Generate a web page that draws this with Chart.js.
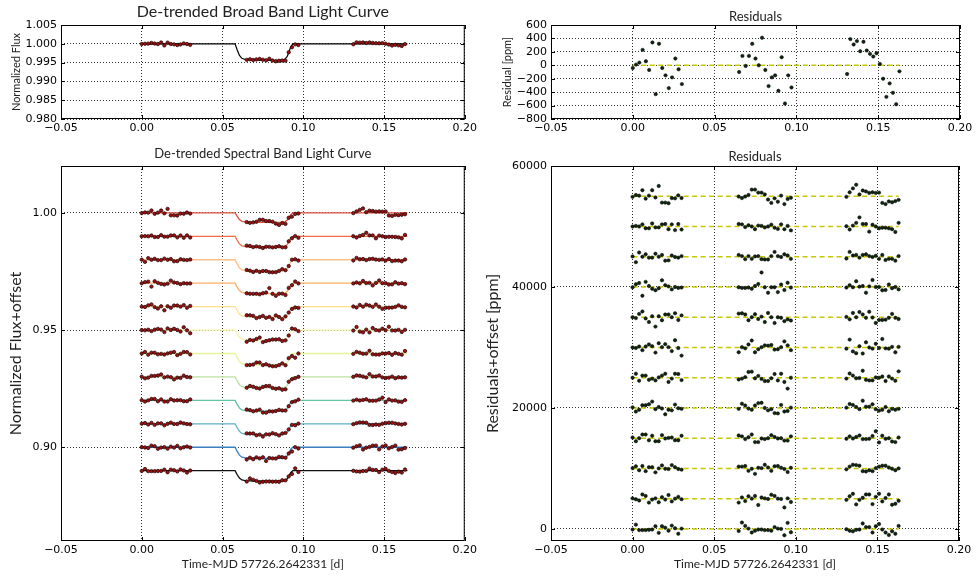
<!DOCTYPE html>
<html lang="en">
<head>
  <meta charset="UTF-8" />
  <title>De-trended Light Curves</title>
  <script src="https://cdn.jsdelivr.net/npm/chart.js"></script>
  <style>
    body {
      margin: 0;
      background: #fff;
      width: 977px;
      height: 577px;
      position: relative;
      overflow: hidden;
    }
    canvas { position: absolute; }
    #broad { left: 0; top: 0; }
    #broadRes { left: 480px; top: 0; }
    #spec { left: 0; top: 140px; }
    #specRes { left: 480px; top: 140px; }
  </style>
</head>
<body>
  <canvas id="broad" width="480" height="140"></canvas>
  <canvas id="broadRes" width="497" height="140"></canvas>
  <canvas id="spec" width="480" height="437"></canvas>
  <canvas id="specRes" width="497" height="437"></canvas>

  <script>
    // sample times [d], three HST-like orbits
    const times = [
      0.000, 0.002, 0.004, 0.006, 0.008, 0.010, 0.012, 0.014, 0.016, 0.018, 0.020, 0.022, 0.024, 0.026, 0.028, 0.030,
      0.065, 0.067, 0.069, 0.071, 0.073, 0.075, 0.077, 0.079, 0.081, 0.083, 0.085, 0.087, 0.089, 0.091, 0.093, 0.095, 0.097,
      0.131, 0.133, 0.135, 0.137, 0.139, 0.141, 0.143, 0.145, 0.147, 0.149, 0.151, 0.153, 0.155, 0.157, 0.159, 0.161, 0.163
    ];
    // fraction of transit depth at each sample time
    const transitShape = [
      0, 0, 0, 0, 0, 0, 0, 0, 0, 0, 0, 0, 0, 0, 0, 0,
      0.97, 0.99, 1.0, 1.0, 1.01, 1.01, 1.02, 1.02, 1.02, 1.01, 1.01, 1.0, 0.95, 0.55, 0.08, 0, 0,
      0, 0, 0, 0, 0, 0, 0, 0, 0, 0, 0, 0, 0, 0, 0, 0, 0
    ];
    // model curve knots
    const modelTimes = [0, 0.0578, 0.0590, 0.0605, 0.0620, 0.0640, 0.0700, 0.0780, 0.0860, 0.0885, 0.0900, 0.0910, 0.0922, 0.0935, 0.1645];
    const modelShape = [0, 0, 0.35, 0.72, 0.90, 0.97, 1.0, 1.02, 1.01, 0.96, 0.80, 0.55, 0.20, 0, 0];

    const broadDepth = 0.0043;
    const broadResiduals = [
      -40, 10, 40, 230, 60, -70, 340, -430, 320, -40, -150, -340, -180, 100, -60, -280,
      -100, 140, -10, 140, 320, 100, 0, 410, -70, -310, -180, -150, -380, 120, -570, -150, -330,
      -130, 390, 310, 360, 210, 350, 220, 170, 130, 180, 20, -200, -470, -270, -410, -580, -90
    ];

    const bandOffsets = [0, 0.01, 0.02, 0.03, 0.04, 0.05, 0.06, 0.07, 0.08, 0.09, 0.10, 0.11];
    const bandDepths = [0.0040, 0.0045, 0.0048, 0.0044, 0.0044, 0.0043, 0.0048, 0.0046, 0.0045, 0.0045, 0.0047, 0.0044];
    const residualOffsets = [55000, 50000, 45000, 40000, 35000, 30000, 25000, 20000, 15000, 10000, 5000, 0];
    const bandColors = ['#e0503c', '#f26b43', '#fdbe85', '#fdae61', '#fee08b', '#f7f4a6',
                        '#e6f598', '#b9e2a0', '#66c2a5', '#5aaec8', '#3a7fc0', '#111111'];

    // residuals in ppm, one list per spectral band (top to bottom)
    const resBand1 = [-100, 200, 100, 1000, -400, 100, 1000, -200, 1700, -1050, -1050, -1150, -300, -350, 150, -300,
      -50, -300, -50, 200, 1100, 1100, 600, 600, 300, -550, -1100, -350, -900, 100, -1300, -450, -250,
      -100, 650, 1300, 1900, 300, 950, 800, 550, 650, 550, 600, -1100, -1300, -850, -1000, -800, -600];
    const resBand2 = [0, 100, 0, 350, -300, -300, 500, -150, -150, 350, 400, -450, 350, -600, 400, -500,
      400, 350, -100, 200, 0, -450, 150, 100, -150, 0, 300, -200, -400, 350, -450, 100, -650,
      50, -500, 150, 600, 1500, 400, 400, -850, 300, 0, -300, -200, -200, -300, -450, -900, 600];
    const resBand3 = [50, -900, 700, 0, 400, -150, -150, 500, 0, 300, -650, -600, 200, -50, -150, 100,
      300, 100, -400, 100, -350, 50, 100, -400, -450, -450, 100, 800, 100, -50, 400, 200, -350,
      -300, 800, 200, 300, -150, 300, 400, 100, -50, 150, -350, 300, -550, -350, -350, -650, 100];
    const resBand4 = [-50, 450, 650, -1450, 850, 150, -300, -550, -200, 1100, 300, 100, -400, 0, -150, -100,
      -50, -150, -150, -100, -300, 150, 500, 2400, -50, -950, -50, -50, -850, 400, -500, 700, -100,
      -100, 300, -50, 950, 50, 150, -950, 100, 1150, 0, 0, -550, -500, 400, -200, 0, -400];
    const resBand5 = [0, -150, 550, 950, -200, -800, 150, -1550, 150, -500, 450, 450, 0, 650, -450, 300,
      600, 650, 450, -500, 0, 500, -300, 100, -800, 700, 0, -950, 0, -100, -650, -350, -550,
      50, -350, 700, 0, 850, 450, -100, 900, -50, -950, -450, -450, -400, -100, 550, -100, -300];
    const resBand6 = [0, -100, 150, -450, 150, 500, 200, -850, 700, 50, 550, 50, -600, 1200, -100, -1350,
      -800, 50, -150, 500, 1150, -800, -300, 50, 350, 300, 400, -350, -300, 50, 1000, 350, -450,
      -200, 1300, -650, -950, 200, -1000, 850, 0, -200, 600, -100, 1400, -150, -200, 100, -800, 100];
    const resBand7 = [0, 650, -500, 350, 350, -350, -150, -450, 50, 350, 650, -700, -150, 650, 600, -400,
      -300, -150, 100, 950, 1000, -100, 300, -200, -550, -550, -100, 600, -450, 650, -700, -1800, 0,
      -150, 700, 350, -100, -50, 1150, -350, -450, -450, 50, 0, 200, -550, 200, -150, -500, 1050];
    const resBand8 = [100, -600, -300, 450, 450, 600, 1050, -200, 150, -100, -1050, -300, -400, 550, -50, -150,
      -150, 700, 400, -100, -300, 400, 800, 850, 0, -400, -200, -850, -900, 500, -600, -500, 50,
      50, 650, 500, 150, -200, 1200, 200, 200, 600, -200, -450, -300, 150, -550, -150, -300, -150];
    const resBand9 = [100, -500, 0, 600, 600, -350, 400, -500, -500, 500, -50, 50, 100, -350, -350, 400,
      450, 300, -150, 150, 600, -650, -650, -50, -150, 0, 500, 200, -50, 0, -400, -400, 300,
      -100, 300, -50, 200, 450, -150, -150, -100, 350, 1150, -700, 400, -100, 0, -550, -650, 100];
    const resBand10 = [50, 350, -300, 400, -450, 200, 200, -650, 0, 500, -50, -100, 550, 200, -100, -200,
      300, 300, 400, -400, -50, -900, 100, 50, 600, 150, -400, 350, 400, 100, -100, -600, 100,
      -150, 300, 600, 550, 450, -450, -500, -300, -450, 50, 300, 450, 450, 150, -50, -300, 0];
    const resBand11 = [50, -100, -300, 700, 450, -650, -150, 50, -600, 250, -150, 600, -450, 0, 300, -100,
      -650, 200, -400, 400, 0, 450, -1050, 200, 50, -50, 650, 450, 0, -50, -1450, 50, -550,
      -200, 400, 800, -950, -200, 150, 700, 700, -900, 300, 800, -450, 100, 700, -1000, -850, -350];
    const resBand12 = [-100, 700, -200, -200, -200, -150, -100, 450, -650, 450, 200, -300, 550, 100, -800, 50,
      -350, 1050, 500, 50, -600, -300, -100, -100, -200, -200, -300, 300, 50, 0, -1050, 1000, -550,
      -50, -300, -400, -150, -100, 900, 300, 300, -600, 450, 800, -100, -600, -1000, -400, -800, 500];
    const bandResiduals = [resBand1, resBand2, resBand3, resBand4, resBand5, resBand6,
                           resBand7, resBand8, resBand9, resBand10, resBand11, resBand12];

    // tick values
    const xTicks = [-0.05, 0.00, 0.05, 0.10, 0.15, 0.20];
    const broadFluxTicks = [0.980, 0.985, 0.990, 0.995, 1.000, 1.005];
    const broadResTicks = [-800, -600, -400, -200, 0, 200, 400, 600];
    const specFluxTicks = [0.90, 0.95, 1.00];
    const specResTicks = [0, 20000, 40000, 60000];

    Chart.defaults.font.family = "'DejaVu Sans', sans-serif";
    Chart.defaults.font.size = 11;
    Chart.defaults.color = '#000';
    Chart.defaults.animation = false;

    const minus = s => s.replace('-', '\u2212');
    const labelFont = "'Lato', 'DejaVu Sans', sans-serif";

    // matplotlib-like closed frame with inward ticks
    const framePlugin = {
      id: 'frame',
      afterDatasetsDraw(chart) {
        const { ctx, chartArea: a, scales } = chart;
        ctx.save();
        ctx.strokeStyle = '#000';
        ctx.lineWidth = 1;
        ctx.strokeRect(a.left + 0.5, a.top + 0.5, a.right - a.left - 1, a.bottom - a.top - 1);
        ctx.beginPath();
        scales.x.ticks.forEach(t => {
          const px = Math.round(scales.x.getPixelForValue(t.value)) + 0.5;
          ctx.moveTo(px, a.bottom); ctx.lineTo(px, a.bottom - 4);
          ctx.moveTo(px, a.top); ctx.lineTo(px, a.top + 4);
        });
        scales.y.ticks.forEach(t => {
          const py = Math.round(scales.y.getPixelForValue(t.value)) + 0.5;
          ctx.moveTo(a.left, py); ctx.lineTo(a.left + 4, py);
          ctx.moveTo(a.right, py); ctx.lineTo(a.right - 4, py);
        });
        ctx.stroke();
        ctx.restore();
      }
    };

    function makeOptions(cfg) {
      return {
        responsive: false,
        devicePixelRatio: 1,
        layout: { padding: { left: 0, right: cfg.padRight, top: 0, bottom: 0 } },
        plugins: {
          legend: { display: false },
          tooltip: { enabled: false },
          title: {
            display: true,
            text: cfg.title,
            fullSize: false,
            color: '#222',
            font: { family: labelFont, size: cfg.titleSize, weight: 'normal', lineHeight: 1.2 },
            padding: cfg.titlePad
          }
        },
        scales: {
          x: {
            type: 'linear',
            min: -0.05,
            max: 0.20,
            afterBuildTicks: s => { s.ticks = xTicks.map(v => ({ value: v })); },
            afterFit: s => { s.height = cfg.xHeight; },
            ticks: { padding: 3, autoSkip: false, maxRotation: 0, callback: v => minus(v.toFixed(2)) },
            grid: { color: '#000', lineWidth: 0.8, drawTicks: false },
            border: { display: false, dash: [1, 2] },
            title: {
              display: !!cfg.xTitle,
              text: cfg.xTitle,
              color: '#222',
              font: { family: labelFont, size: 12 },
              padding: { top: 0, bottom: 6 }
            }
          },
          y: {
            type: 'linear',
            min: cfg.yMin,
            max: cfg.yMax,
            afterBuildTicks: s => { s.ticks = cfg.yTicks.map(v => ({ value: v })); },
            ticks: { padding: 4, autoSkip: false, callback: cfg.yFmt },
            afterFit: s => { s.width = cfg.yWidth; },
            grid: { color: '#000', lineWidth: 0.8, drawTicks: false },
            border: { display: false, dash: [1, 2] },
            title: {
              display: true,
              text: cfg.yTitle,
              color: '#222',
              font: { family: labelFont, size: cfg.yTitleSize },
              padding: { top: cfg.yTitlePad, bottom: 0 }
            }
          }
        }
      };
    }

    const fluxPoint = {
      type: 'scatter',
      pointRadius: 1.7,
      pointBackgroundColor: '#a01212',
      pointBorderColor: '#1a0000',
      pointBorderWidth: 0.7,
      showLine: false
    };
    const resPoint = {
      type: 'scatter',
      pointRadius: 1.7,
      pointBackgroundColor: '#0e260e',
      pointBorderColor: '#000',
      pointBorderWidth: 0.5,
      showLine: false
    };
    const lastTime = times[times.length - 1];

    // broad band light curve
    new Chart(document.getElementById('broad'), {
      type: 'scatter',
      data: {
        datasets: [
          Object.assign({}, fluxPoint, {
            data: times.map((t, i) => ({ x: t, y: 1 - broadDepth * transitShape[i] + broadResiduals[i] * 1e-6 }))
          }),
          {
            type: 'line',
            data: modelTimes.map((t, i) => ({ x: t, y: 1 - broadDepth * modelShape[i] })),
            borderColor: '#000',
            borderWidth: 1.2,
            pointRadius: 0
          }
        ]
      },
      options: makeOptions({
        title: 'De-trended Broad Band Light Curve', titleSize: 16, titlePad: { top: 2, bottom: 3.8 },
        yTitle: 'Normalized Flux', yTitleSize: 11, yTitlePad: 10,
        yMin: 0.98, yMax: 1.005, yTicks: broadFluxTicks, yFmt: v => v.toFixed(3),
        yWidth: 61, xHeight: 21, padRight: 10
      }),
      plugins: [framePlugin]
    });

    // broad band residuals
    new Chart(document.getElementById('broadRes'), {
      type: 'scatter',
      data: {
        datasets: [
          Object.assign({}, resPoint, { data: times.map((t, i) => ({ x: t, y: broadResiduals[i] })) }),
          {
            type: 'line',
            data: [{ x: times[0], y: 0 }, { x: lastTime, y: 0 }],
            borderColor: '#c8c800',
            borderWidth: 1.5,
            borderDash: [5, 3.5],
            pointRadius: 0
          }
        ]
      },
      options: makeOptions({
        title: 'Residuals', titleSize: 13, titlePad: { top: 9.2, bottom: 0.2 },
        yTitle: 'Residual [ppm]', yTitleSize: 11, yTitlePad: 21,
        yMin: -800, yMax: 600, yTicks: broadResTicks, yFmt: v => minus(String(v)),
        yWidth: 71, xHeight: 21, padRight: 17
      }),
      plugins: [framePlugin]
    });

    // spectral band light curves
    const specSets = [];
    bandResiduals.forEach((res, b) => {
      specSets.push(Object.assign({}, fluxPoint, {
        data: times.map((t, i) => ({ x: t, y: 1 - bandOffsets[b] - bandDepths[b] * transitShape[i] + res[i] * 1e-6 }))
      }));
    });
    bandResiduals.forEach((res, b) => {
      specSets.push({
        type: 'line',
        data: modelTimes.map((t, i) => ({ x: t, y: 1 - bandOffsets[b] - bandDepths[b] * modelShape[i] })),
        borderColor: bandColors[b],
        borderWidth: 1.3,
        pointRadius: 0
      });
    });
    new Chart(document.getElementById('spec'), {
      type: 'scatter',
      data: { datasets: specSets },
      options: makeOptions({
        title: 'De-trended Spectral Band Light Curve', titleSize: 13, titlePad: { top: 6.2, bottom: 4.2 },
        xTitle: 'Time-MJD 57726.2642331 [d]',
        yTitle: 'Normalized Flux+offset', yTitleSize: 16, yTitlePad: 6.4,
        yMin: 0.86, yMax: 1.02, yTicks: specFluxTicks, yFmt: v => v.toFixed(2),
        yWidth: 61, xHeight: 36, padRight: 11
      }),
      plugins: [framePlugin]
    });

    // spectral band residuals
    const specResSets = [];
    bandResiduals.forEach((res, b) => {
      specResSets.push(Object.assign({}, resPoint, {
        data: times.map((t, i) => ({ x: t, y: residualOffsets[b] + res[i] }))
      }));
    });
    bandResiduals.forEach((res, b) => {
      specResSets.push({
        type: 'line',
        data: [{ x: times[0], y: residualOffsets[b] }, { x: lastTime, y: residualOffsets[b] }],
        borderColor: '#c8c800',
        borderWidth: 1.5,
        borderDash: [5, 3.5],
        pointRadius: 0
      });
    });
    new Chart(document.getElementById('specRes'), {
      type: 'scatter',
      data: { datasets: specResSets },
      options: makeOptions({
        title: 'Residuals', titleSize: 13, titlePad: { top: 9.5, bottom: 0.9 },
        xTitle: 'Time-MJD 57726.2642331 [d]',
        yTitle: 'Residuals+offset [ppm]', yTitleSize: 16, yTitlePad: 3.4,
        yMin: -2000, yMax: 60000, yTicks: specResTicks, yFmt: v => String(v),
        yWidth: 71, xHeight: 36, padRight: 18
      }),
      plugins: [framePlugin]
    });
  </script>
</body>
</html>
